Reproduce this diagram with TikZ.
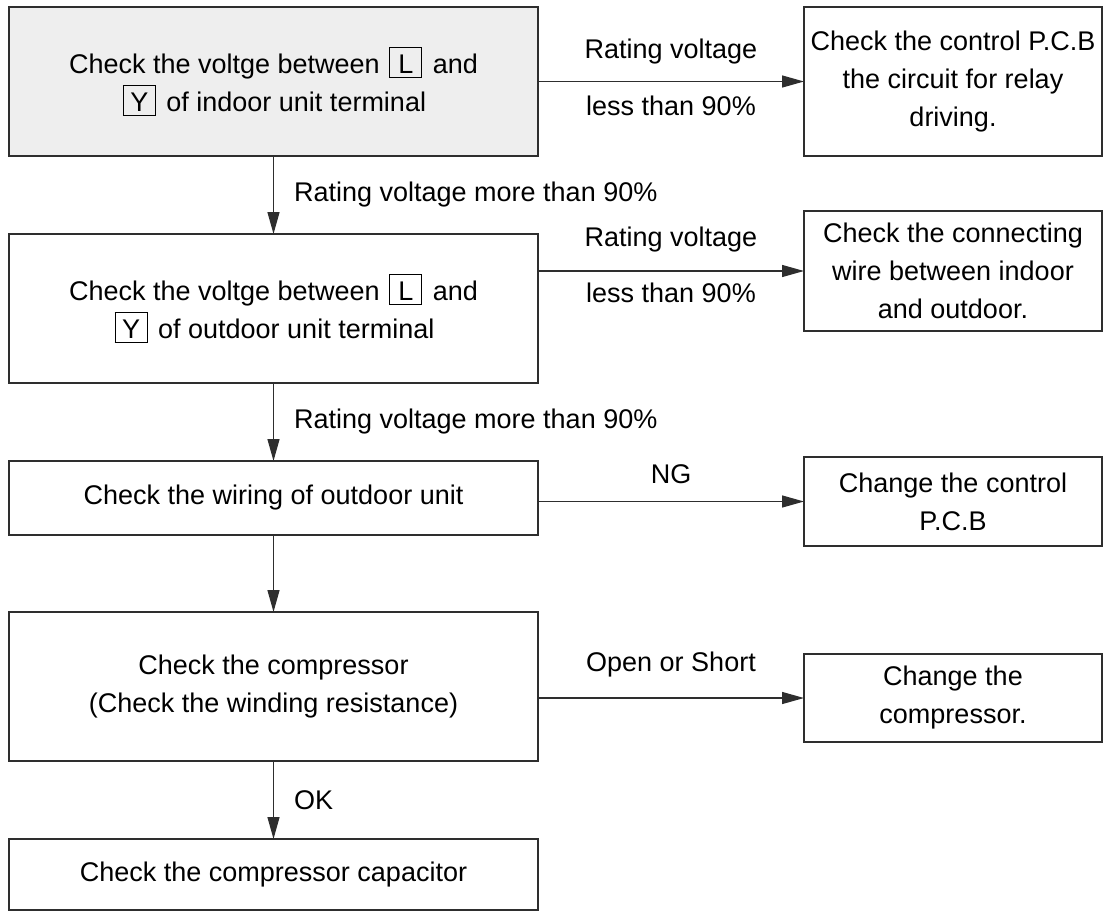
\documentclass[tikz,border=0pt]{standalone}
\usepackage{fontspec}
\setmainfont{Liberation Sans}
\usetikzlibrary{arrows.meta,positioning}
\definecolor{boxfill}{HTML}{EEEEEE}
\definecolor{linegray}{HTML}{2E2E2E}
\newcommand{\term}[1]{\hspace{2pt}{\setlength{\fboxsep}{3pt}\setlength{\fboxrule}{1pt}\fbox{\rule[-1pt]{0pt}{23pt}\makebox[25pt]{#1}}}\hspace{3pt}}

\begin{document}
\begin{tikzpicture}[x=1pt, y=-1pt,
    node distance=78pt and 266pt,
    every node/.style={font=\fontsize{27}{38}\selectfont, text=black},
    box/.style={rectangle, draw=linegray, line width=1.3pt, minimum width=529pt, align=center, inner sep=0pt, outer sep=0pt},
    rbox/.style={rectangle, draw=linegray, line width=1.3pt, minimum width=298pt, align=center, inner sep=0pt, outer sep=0pt},
    arrow/.style={-{Triangle[length=22pt, width=12pt]}, linegray, line width=1.3pt},
    lbl/.style={inner sep=0pt}
    ]
    \useasboundingbox (0,0) rectangle (1106,913);
    % left column
    \node[box, fill=boxfill, minimum height=149pt] (B1) at (273.5,81.5) {Check the voltge between \term{L} and\\ \term{Y} of indoor unit terminal};
    \node[box, minimum height=149pt, below=of B1] (B2) {Check the voltge between \term{L} and\\ \term{Y} of outdoor unit terminal};
    \node[box, minimum height=74pt, below=of B2] (B3) {Check the wiring of outdoor unit};
    \node[box, minimum height=149pt, below=77pt of B3] (B4) {Check the compressor\\ (Check the winding resistance)};
    \node[box, minimum height=71pt, below=of B4] (B5) {Check the compressor capacitor};
    % right column
    \node[rbox, minimum height=149pt] (R1) at (953,81.5) {Check the control P.C.B\\ the circuit for relay\\ driving.};
    \node[rbox, minimum height=120pt] (R2) at (953,271) {Check the connecting\\ wire between indoor\\ and outdoor.};
    \node[rbox, minimum height=89pt] (R3) at (953,501.5) {Change the control\\ P.C.B};
    \node[rbox, minimum height=88pt] (R4) at (953,698) {Change the\\ compressor.};
    \draw[arrow] (B1) -- node[midway, above=17pt, lbl] {Rating voltage} node[midway, below=14pt, lbl] {less than 90\%} (R1);
    \draw[arrow] (B2.east |- R2) -- node[midway, above=18pt, lbl] {Rating voltage} node[midway, below=11pt, lbl] {less than 90\%} (R2);
    \draw[arrow] (B3.east |- R3) -- node[midway, above=17pt, lbl] {NG} (R3);
    \draw[arrow] (B4.east |- R4) -- node[midway, above=20pt, lbl] {Open or Short} (R4);
    \draw[arrow] (B1) -- node[midway, right=20pt, lbl] {Rating voltage more than 90\%} (B2);
    \draw[arrow] (B2) -- node[midway, right=20pt, lbl] {Rating voltage more than 90\%} (B3);
    \draw[arrow] (B3) -- (B4);
    \draw[arrow] (B4) -- node[midway, right=20pt, lbl] {OK} (B5);
\end{tikzpicture}
\end{document}
